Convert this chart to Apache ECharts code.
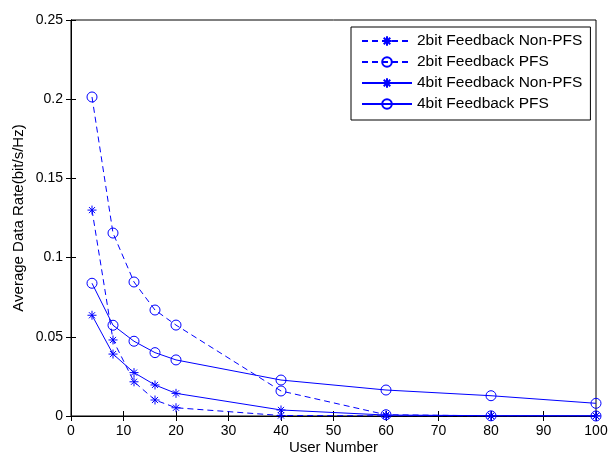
<!DOCTYPE html>
<html><head><meta charset="utf-8">
<script src="https://cdn.jsdelivr.net/npm/echarts@6/dist/echarts.min.js"></script>
<style>html,body{margin:0;padding:0;background:#fff}#c{width:608px;height:454px}</style>
</head><body><div id="c"></div>
<script>
const userNumbers = [4, 8, 12, 16, 20, 40, 60, 80, 100];
const bit2NonPFS = [0.130, 0.048, 0.0216, 0.0101, 0.0052, 0.0003, 0.0001, 0.0, 0.0];
const bit2PFS    = [0.2014, 0.1155, 0.0846, 0.0669, 0.0574, 0.0158, 0.0008, 0.0001, 0.0];
const bit4NonPFS = [0.0636, 0.0391, 0.0274, 0.0196, 0.0143, 0.0038, 0.0006, 0.0002, 0.0001];
const bit4PFS    = [0.0838, 0.0573, 0.0472, 0.0400, 0.0354, 0.0227, 0.0164, 0.0128, 0.0080];
const seriesNames = ['2bit Feedback Non-PFS', '2bit Feedback PFS', '4bit Feedback Non-PFS', '4bit Feedback PFS'];
const xTicks = [0,10,20,30,40,50,60,70,80,90,100];
const yTicks = [0,0.05,0.1,0.15,0.2,0.25];

const BLUE = '#0000ff';
const STAR = 'path://M0 5 L10 5 M5 0 L5 10 M1.6 1.6 L8.4 8.4 M1.6 8.4 L8.4 1.6';
const font = 'Liberation Sans, Arial, sans-serif';
function pairs(v){ return userNumbers.map((x,i)=>[x, v[i]]); }
function mk(name, vals, dashed, star){
  return {
    name, type:'line', data:pairs(vals),
    symbol: star ? STAR : 'circle',
    symbolSize: star ? 9 : 10,
    showSymbol:true,
    lineStyle:{color:BLUE, width:1, type: dashed ? [6,4] : 'solid'},
    itemStyle:{color:'rgba(0,0,0,0)', borderColor:BLUE, borderWidth:1},
    emphasis:{disabled:true},
    animation:false,
    z: 3
  };
}
const chart = echarts.init(document.getElementById('c'), null, {renderer:'canvas'});
const axisCommon = {
  axisLine:{show:true, lineStyle:{color:'#000', width:1}},
  axisTick:{show:true, inside:true, length:5, lineStyle:{color:'#000'}},
  splitLine:{show:false},
};
chart.setOption({
  animation:false,
  backgroundColor:'#fff',
  grid:{left:71, right:12, top:20, bottom:38, outerBoundsMode:'none', containLabel:false,
        show:true, borderColor:'#000', borderWidth:1, backgroundColor:'#fff'},
  legend:{
    data: seriesNames.map(n=>({name:n})),
    orient:'vertical', left:351, top:27,
    itemWidth:50, itemHeight:12, itemGap:5,
    padding:[6,8,8,10],
    borderColor:'#000', borderWidth:1, backgroundColor:'#fff',
    textStyle:{fontFamily:font, fontSize:15.5, color:'#000', lineHeight:16},
    selectedMode:false
  },
  xAxis:[
    Object.assign({type:'value', min:0, max:100, interval:10, name:'User Number', nameLocation:'middle', nameGap:24.5,
      nameMoveOverlap:false,
      nameTextStyle:{fontFamily:font, fontSize:15, color:'#000'},
      axisLabel:{fontFamily:font, fontSize:14, color:'#000', margin:8}}, axisCommon),
    Object.assign({type:'value', min:0, max:100, interval:10, position:'top', axisLabel:{show:false}}, axisCommon)
  ],
  yAxis:[
    Object.assign({type:'value', min:0, max:0.25, interval:0.05, name:'Average Data Rate(bit/s/Hz)', nameLocation:'middle', nameGap:45,
      nameMoveOverlap:false,
      nameTextStyle:{fontFamily:font, fontSize:15, color:'#000'},
      axisLabel:{fontFamily:font, fontSize:14, color:'#000', margin:8}}, axisCommon),
    Object.assign({type:'value', min:0, max:0.25, interval:0.05, position:'right', axisLabel:{show:false}}, axisCommon)
  ],
  series:[
    mk(seriesNames[0], bit2NonPFS, true, true),
    mk(seriesNames[1], bit2PFS, true, false),
    mk(seriesNames[2], bit4NonPFS, false, true),
    mk(seriesNames[3], bit4PFS, false, false)
  ]
});
</script></body></html>
